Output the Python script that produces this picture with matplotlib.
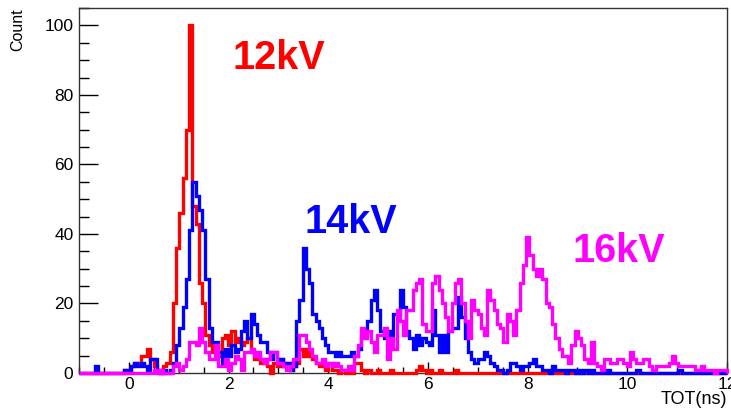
import matplotlib
matplotlib.use("Agg")
import matplotlib.pyplot as plt
import numpy as np
from matplotlib.ticker import MultipleLocator

#===========================================================================#
#
# Data : TOT histograms, 200 bins from -1 to 12 ns
#
#---------------------------------------------------------------------------#

tot_min, tot_max, n_bins = -1.0, 12.0, 200

counts_12kV = [
    0, 0, 0, 0, 0, 0, 0, 0, 0, 0,
    0, 0, 0, 0, 1, 0, 2, 3, 3, 5,
    5, 7, 4, 2, 1, 0, 2, 3, 6, 20,
    36, 46, 56, 70, 100, 48, 43, 26, 20, 11,
    8, 6, 8, 5, 10, 11, 8, 12, 9, 10,
    8, 9, 10, 6, 4, 5, 3, 4, 2, 0,
    3, 2, 4, 2, 3, 1, 2, 3, 7, 5,
    7, 5, 4, 3, 2, 2, 1, 3, 1, 1,
    0, 1, 0, 1, 0, 3, 3, 1, 0, 1,
    0, 0, 1, 0, 0, 0, 1, 0, 0, 0,
    0, 0, 0, 0, 1, 2, 1, 0, 1, 0,
    0, 1, 0, 0, 0, 0, 1, 0, 0, 0,
] + [0] * 80

counts_14kV = [
    0, 0, 0, 0, 0, 2, 0, 0, 0, 0,
    0, 0, 0, 0, 1, 1, 2, 3, 2, 3,
    2, 1, 4, 4, 1, 0, 1, 0, 1, 3,
    8, 13, 19, 27, 41, 55, 51, 47, 41, 27,
    13, 9, 9, 6, 3, 7, 5, 8, 6, 7,
    12, 15, 10, 17, 14, 11, 9, 9, 6, 4,
    6, 3, 4, 2, 3, 1, 2, 15, 21, 36,
    30, 26, 17, 15, 13, 10, 8, 6, 6, 5,
    6, 5, 5, 5, 6, 5, 7, 11, 11, 15,
    21, 24, 18, 12, 10, 12, 10, 17, 17, 24,
    19, 12, 10, 7, 11, 8, 10, 9, 8, 18,
    11, 6, 11, 6, 12, 13, 13, 22, 16, 10,
    6, 4, 3, 4, 4, 6, 5, 3, 2, 1,
    1, 0, 1, 3, 3, 2, 1, 2, 2, 3,
    4, 2, 2, 1, 1, 0, 2, 1, 1, 1,
    0, 1, 1, 0, 1, 0, 1, 0, 1, 0,
    0, 0, 0, 1, 0, 0, 0, 0, 0, 0,
    0, 0, 1, 0, 0, 0, 0, 0, 0, 0,
    0, 0, 0, 0, 0, 1, 0, 0, 0, 0,
    0, 0, 1, 0, 0, 0, 0, 0, 0, 0,
]

counts_16kV = [
    0, 0, 0, 0, 0, 0, 0, 0, 0, 0,
    0, 0, 0, 0, 0, 0, 0, 0, 0, 0,
    0, 0, 0, 1, 0, 1, 0, 0, 0, 2,
    3, 1, 2, 4, 9, 9, 8, 13, 9, 6,
    4, 4, 8, 2, 2, 4, 1, 3, 5, 4,
    1, 6, 6, 7, 5, 6, 4, 3, 4, 6,
    6, 3, 3, 2, 1, 2, 4, 4, 11, 11,
    9, 7, 5, 3, 3, 4, 2, 3, 2, 3,
    2, 1, 1, 2, 1, 5, 8, 13, 10, 12,
    9, 6, 11, 11, 13, 4, 10, 7, 18, 15,
    11, 18, 18, 24, 26, 27, 14, 12, 12, 26,
    28, 24, 20, 16, 12, 20, 26, 27, 20, 15,
    10, 21, 18, 17, 13, 11, 24, 21, 18, 14,
    13, 9, 17, 15, 11, 18, 26, 31, 39, 34,
    30, 28, 30, 27, 20, 19, 14, 10, 7, 5,
    5, 3, 8, 12, 10, 8, 4, 3, 9, 3,
    2, 1, 4, 4, 3, 3, 4, 4, 3, 2,
    6, 4, 3, 3, 4, 4, 2, 1, 2, 2,
    2, 2, 3, 5, 3, 2, 2, 2, 2, 2,
    1, 1, 2, 1, 1, 1, 0, 1, 1, 1,
]

series_labels = ["12kV", "14kV", "16kV"]
series_colors = ["#ff0000", "#0000ff", "#ff00ff"]

#===========================================================================#
#
# Plotting
#
#---------------------------------------------------------------------------#

FONT = "Liberation Sans"


def plot(ax):

    edges = np.linspace(tot_min, tot_max, n_bins + 1)

    for counts, color in zip([counts_12kV, counts_14kV, counts_16kV],
                             series_colors):
        ax.stairs(counts, edges, baseline=0, color=color, linewidth=2.4,
                  zorder=3, clip_on=False)

    # big labels next to each peak
    label_pos = [(3.0, 90.5), (4.46, 43.3), (9.82, 35.0)]
    for lab, color, (x, y) in zip(series_labels, series_colors, label_pos):
        ax.text(x, y, lab, color=color, fontsize=28.5, fontweight="bold",
                family=FONT, ha="center", va="center", zorder=4)

    ax.set_xlim(tot_min, tot_max)
    ax.set_ylim(0, 105)

    ax.xaxis.set_major_locator(MultipleLocator(2))
    ax.xaxis.set_minor_locator(MultipleLocator(0.5))
    ax.yaxis.set_major_locator(MultipleLocator(20))
    ax.yaxis.set_minor_locator(MultipleLocator(5))

    ax.tick_params(axis="y", which="major", direction="in", length=14,
                   width=1, labelsize=12.5, pad=4)
    ax.tick_params(axis="y", which="minor", direction="in", length=7,
                   width=1)
    ax.tick_params(axis="x", which="major", direction="in", length=8,
                   width=1, labelsize=12.5, pad=3)
    ax.tick_params(axis="x", which="minor", direction="in", length=4,
                   width=1)

    for lab in ax.get_xticklabels() + ax.get_yticklabels():
        lab.set_family(FONT)

    for sp in ax.spines.values():
        sp.set_linewidth(1)
        sp.set_color("#333333")


def main():

    fig = plt.figure(figsize=(7.31, 4.08), dpi=100)
    ax = fig.add_axes([79 / 731, 35 / 408, 648 / 731, 365 / 408])

    plot(ax)

    fig.text(727 / 731, 8 / 408, "TOT(ns)", ha="right", va="center",
             fontsize=13, family=FONT)
    fig.text(18 / 731, 1 - 8 / 408, "Count", rotation=90, ha="center",
             va="top", fontsize=11.5, family=FONT)

    fig.savefig("out.png", dpi=100)
    plt.close(fig)


if __name__ == "__main__":
    main()
